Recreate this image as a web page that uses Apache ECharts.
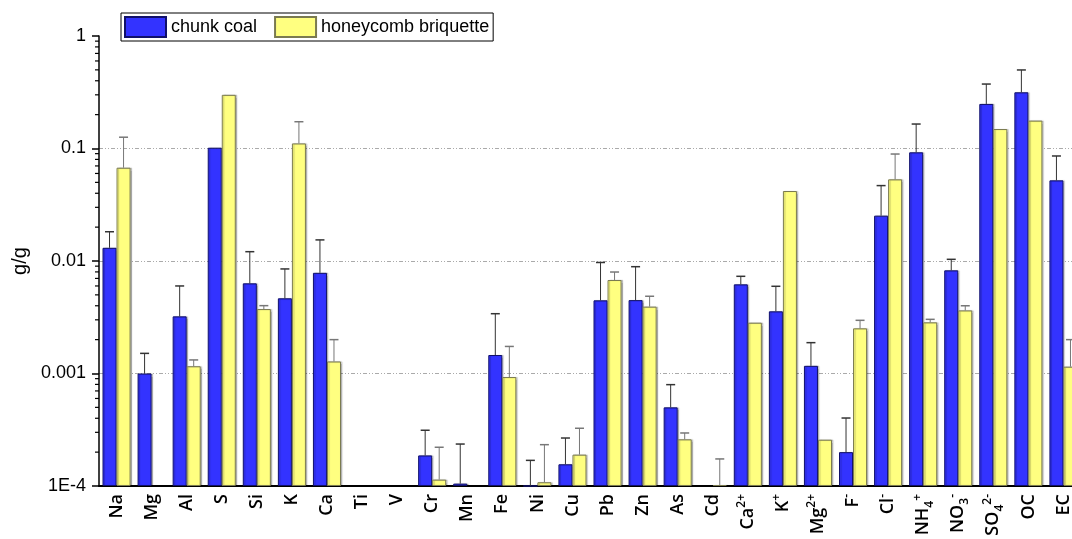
<!DOCTYPE html>
<html>
<head>
<meta charset="utf-8">
<title>chunk coal vs honeycomb briquette</title>
<script src="https://cdn.jsdelivr.net/npm/echarts@6/dist/echarts.min.js"></script>
<style>
  html, body { margin: 0; padding: 0; background: #fff; }
  #chart { width: 1072px; height: 539px; }
</style>
</head>
<body>
<div id="chart"></div>
<script>
// species on the x axis
var categories = ['Na','Mg','Al','S','Si','K','Ca','Ti','V','Cr','Mn','Fe','Ni','Cu','Pb','Zn','As','Cd',
  'Ca²⁺','K⁺','Mg²⁺','F⁻','Cl⁻','NH₄⁺','NO₃⁻','SO₄²⁻','OC','EC'];

// mean values (g/g)
var coal = [0.0131, 0.001, 0.00322, 0.1016, 0.00633, 0.00466, 0.00785, null, null, 0.000187, 0.000105, 0.00146,
  0.0001, 0.000156, 0.00447, 0.00449, 0.0005, null, 0.0062, 0.00357, 0.00117, 0.0002, 0.0253, 0.0925, 0.00826,
  0.249, 0.316, 0.0521];
var briquette = [0.0675, null, 0.00116, 0.3, 0.00374, 0.111, 0.00128, null, null, 0.000114, null, 0.00093,
  0.000108, 0.00019, 0.00678, 0.00393, 0.00026, 0.000102, 0.00283, 0.0419, 0.000258, 0.00252, 0.0532, 0.00285,
  0.00364, 0.149, 0.177, 0.00115];

// top of the error bars (mean + sd)
var coalErr = [0.0182, 0.00151, 0.006, null, 0.0121, 0.0085, 0.0154, null, null, 0.000313, 0.000236, 0.0034,
  0.000169, 0.000267, 0.0097, 0.0089, 0.000796, null, 0.00731, 0.00596, 0.00188, 0.000402, 0.0468, 0.165, 0.01035,
  0.374, 0.499, 0.0858];
var briquetteErr = [0.126, null, 0.00132, null, 0.00401, 0.173, 0.002, null, null, 0.000221, null, 0.00174,
  0.000233, 0.000326, 0.00798, 0.00486, 0.000296, 0.000174, null, null, null, 0.00297, 0.0893, 0.00303, 0.004,
  null, null, 0.002];

// y axis tick labels
var yTickValues = [0.0001, 0.001, 0.01, 0.1, 1];
var yTickLabels = ['1E-4', '0.001', '0.01', '0.1', '1'];
var minorMultipliers = [2, 3, 4, 5, 6, 7, 8, 9];
var decades = [0.0001, 0.001, 0.01, 0.1];

var minorTicks = [];
decades.forEach(function (d) {
  minorMultipliers.forEach(function (m) { minorTicks.push([0, d * m]); });
});

// unicode super/subscripts -> rich text pieces
var supChars = {'²': '2', '⁺': '+', '⁻': '-'};
var subChars = {'₄': '4', '₃': '3'};
function richLabel(s) {
  var out = '', mode = null, buf = '';
  function flush() {
    if (!buf) return;
    out += mode ? '{' + mode + '|' + buf + '}' : '{b|' + buf + '}';
    buf = '';
  }
  for (var i = 0; i < s.length; i++) {
    var c = s[i];
    var m = supChars[c] ? 'sup' : (subChars[c] ? 'sub' : null);
    if (m !== mode) { flush(); mode = m; }
    buf += supChars[c] || subChars[c] || c;
  }
  flush();
  return out;
}

function errData(vals, errs) {
  var out = [];
  for (var i = 0; i < vals.length; i++) {
    if (vals[i] != null && errs[i] != null) out.push([i, vals[i], errs[i]]);
  }
  return out;
}

function errRender(side, color) {
  return function (params, api) {
    var bw = api.size([1, 0])[0];
    var p0 = api.coord([api.value(0), api.value(1)]);
    var p1 = api.coord([api.value(0), api.value(2)]);
    var x = p0[0] + side * bw * 0.2;
    return {
      type: 'group',
      children: [
        {type: 'line', shape: {x1: x, y1: p0[1], x2: x, y2: p1[1]}, style: {stroke: color, lineWidth: 1}},
        {type: 'line', shape: {x1: x - 4.5, y1: p1[1], x2: x + 4.5, y2: p1[1]}, style: {stroke: color, lineWidth: 1.5}}
      ]
    };
  };
}

var labelFont = 'Open Sans';
var chart = echarts.init(document.getElementById('chart'));
var option = {
  animation: false,
  backgroundColor: '#fff',
  textStyle: {fontFamily: 'Liberation Sans'},
  legend: {
    left: 121,
    top: 13,
    icon: 'rect',
    itemWidth: 41,
    itemHeight: 20,
    itemGap: 17,
    padding: [3, 4, 3, 3],
    borderColor: '#000',
    borderWidth: 1,
    textStyle: {fontSize: 18, color: '#000', fontFamily: 'Liberation Sans'},
    data: ['chunk coal', 'honeycomb briquette']
  },
  // the last category runs past the right edge of the picture
  grid: {left: 99, width: 982, top: 36, bottom: 53, containLabel: false, outerBoundsMode: 'none'},
  xAxis: {
    type: 'category',
    data: categories,
    axisLine: {lineStyle: {color: '#000', width: 2}},
    axisTick: {alignWithLabel: true, interval: 0, length: 5, lineStyle: {color: '#000', width: 1.5}},
    axisLabel: {
      interval: 0,
      rotate: 90,
      margin: 8,
      color: '#000',
      formatter: function (v) { return richLabel(v); },
      rich: {
        b: {fontSize: 18, fontWeight: 600, fontFamily: labelFont, color: '#000', lineHeight: 24},
        sup: {fontSize: 12, fontWeight: 600, fontFamily: labelFont, color: '#000', lineHeight: 12, verticalAlign: 'top'},
        sub: {fontSize: 12, fontWeight: 600, fontFamily: labelFont, color: '#000', lineHeight: 12, verticalAlign: 'bottom'}
      }
    },
    splitLine: {show: false}
  },
  yAxis: {
    type: 'log',
    logBase: 10,
    min: 0.0001,
    max: 1,
    startValue: 0.0001,
    name: 'g/g',
    nameLocation: 'middle',
    nameRotate: 90,
    nameGap: 68,
    nameTextStyle: {fontSize: 20, color: '#000', fontFamily: 'Liberation Sans'},
    axisLine: {show: true, lineStyle: {color: '#000', width: 1.5}},
    axisTick: {show: true, length: 7, lineStyle: {color: '#000', width: 1.5}},
    axisLabel: {
      margin: 13,
      fontSize: 18,
      color: '#000',
      formatter: function (v) {
        for (var i = 0; i < yTickValues.length; i++) {
          if (Math.abs(Math.log10(v) - Math.log10(yTickValues[i])) < 1e-6) return yTickLabels[i];
        }
        return '';
      }
    },
    splitLine: {
      show: true,
      showMinLine: false,
      showMaxLine: false,
      lineStyle: {color: '#aaa', width: 1, type: [4, 2, 1, 2, 1, 2]}
    }
  },
  series: [
    {
      name: 'chunk coal',
      type: 'bar',
      data: coal,
      barWidth: '40%',
      barGap: '0%',
      itemStyle: {
        color: '#3333ff',
        borderColor: '#10106a',
        borderWidth: 1,
        shadowColor: 'rgba(0,0,0,0.22)',
        shadowOffsetX: 1.5,
        shadowOffsetY: 0,
        shadowBlur: 1
      }
    },
    {
      name: 'honeycomb briquette',
      type: 'bar',
      data: briquette,
      barWidth: '40%',
      barGap: '0%',
      itemStyle: {
        color: '#ffff80',
        borderColor: '#7a7a50',
        borderWidth: 1,
        shadowColor: 'rgba(0,0,0,0.22)',
        shadowOffsetX: 1.5,
        shadowOffsetY: 0,
        shadowBlur: 1
      }
    },
    {
      type: 'custom',
      name: 'coal sd',
      data: errData(coal, coalErr),
      encode: {x: 0, y: [1, 2]},
      renderItem: errRender(-1, '#333'),
      z: 3
    },
    {
      type: 'custom',
      name: 'briquette sd',
      data: errData(briquette, briquetteErr),
      encode: {x: 0, y: [1, 2]},
      renderItem: errRender(1, '#777'),
      z: 3
    },
    {
      // minor ticks of the log axis
      type: 'custom',
      name: 'minor',
      data: minorTicks,
      clip: false,
      silent: true,
      encode: {x: 0, y: 1},
      renderItem: function (params, api) {
        var bw = api.size([1, 0])[0];
        var p = api.coord([api.value(0), api.value(1)]);
        var x0 = p[0] - bw / 2;
        return {type: 'line', shape: {x1: x0 - 4, y1: p[1], x2: x0, y2: p[1]}, style: {stroke: '#000', lineWidth: 1.2}};
      },
      z: 5
    }
  ]
};
chart.setOption(option);
</script>
</body>
</html>
